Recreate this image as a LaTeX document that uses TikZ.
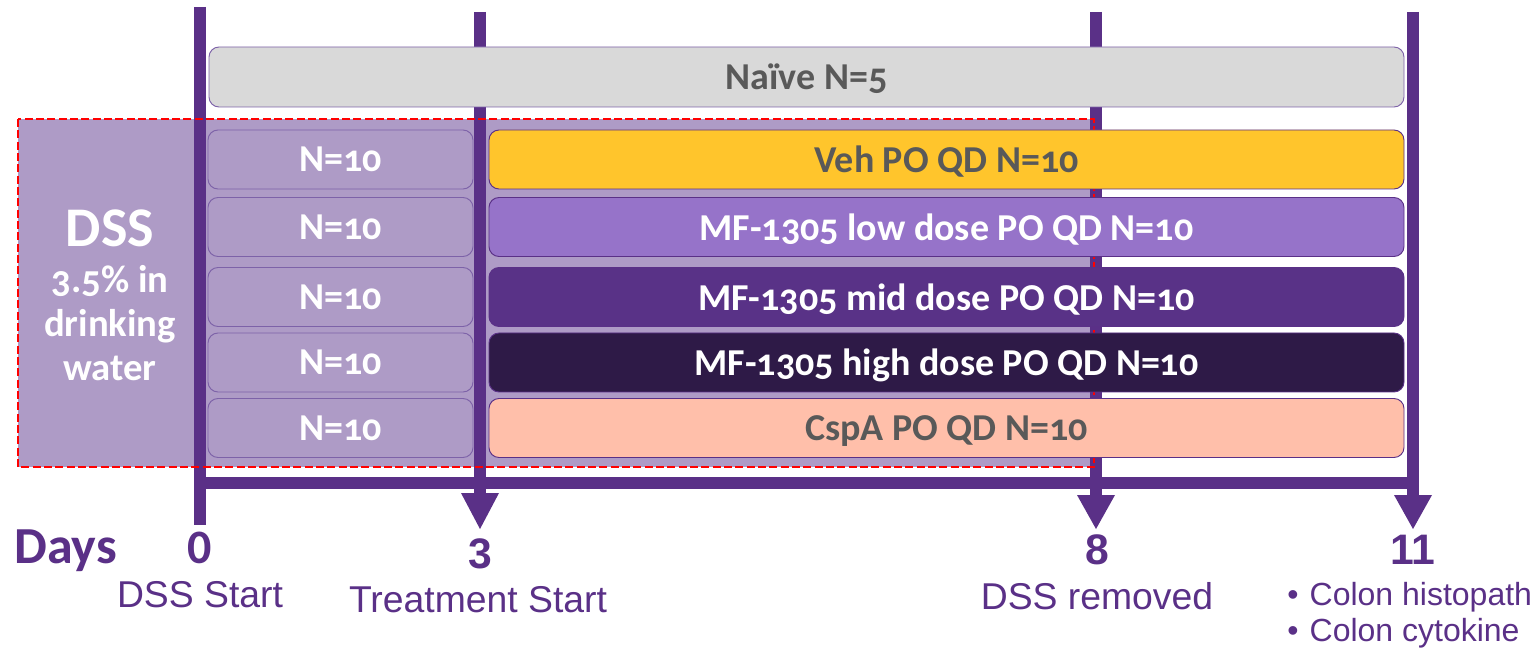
\documentclass[tikz,border=0pt]{standalone}
\usepackage{fontspec}
\setmainfont{Carlito}[Numbers=OldStyle]
\newfontfamily\calfont{Carlito}
\newfontfamily\arialfont{Liberation Sans}
\definecolor{mainp}{HTML}{5A3087}
\definecolor{bgp}{HTML}{AE9BC6}
\definecolor{edgep}{HTML}{7D62A8}
\definecolor{gtxt}{HTML}{595959}
\definecolor{naivef}{HTML}{D9D9D9}
\definecolor{vehf}{HTML}{FFC52C}
\definecolor{lowf}{HTML}{9673C9}
\definecolor{midf}{HTML}{593287}
\definecolor{highf}{HTML}{2E1A47}
\definecolor{cspf}{HTML}{FFBFAA}
\tikzset{
  x=0.75pt, y=-0.75pt,
  rbox/.style={draw=mainp, line width=0.7pt, rounded corners=7.5pt, minimum height=44.25pt, inner sep=0pt,
     text depth=0pt, font=\fontsize{28.5}{33}\selectfont\bfseries},
  lbox/.style={rbox, draw=edgep, fill=bgp, text=white, minimum width=198.75pt},
  wbox/.style={rbox, minimum width=686.25pt},
  tl/.style={mainp, line width=9pt},
  tip/.style={fill=mainp, draw=none},
  daynum/.style={text=mainp, font=\arialfont\fontsize{32}{36}\selectfont\bfseries, inner sep=0pt},
  sub/.style={text=mainp, font=\arialfont\fontsize{28}{32}\selectfont, inner sep=0pt},
}
\begin{document}
\begin{tikzpicture}
\useasboundingbox (0,0) rectangle (1538,648);
% DSS background
\fill[bgp] (18,119) rectangle (1092,467);
% timeline lines
\draw[tl] (200,7) -- (200,525);
\draw[tl] (480,12) -- (480,494);
\draw[tl] (1096,12) -- (1096,496);
\draw[tl] (1413,12) -- (1413,496);
\draw[tl] (194,482.5) -- (1419,482.5);
\fill[tip] (461,493) -- (499,493) -- (480,529) -- cycle;
\fill[tip] (1077,495) -- (1115,495) -- (1096,529) -- cycle;
\fill[tip] (1394,495) -- (1432,495) -- (1413,529) -- cycle;
% red dashed frame
\draw[red, line width=1.3pt, dash pattern=on 6pt off 2.5pt] (18,119) rectangle (1094,467);
% naive
\node[rbox, draw=edgep, fill=naivef, text=gtxt, minimum width=896.25pt, minimum height=45pt] (naive) at (806.5,77) {Naïve N=5};
% left boxes
\node[lbox] (l1) at (340.5,159.5) {N=10};
\node[lbox] (l2) at (340.5,227) {N=10};
\node[lbox] (l3) at (340.5,297) {N=10};
\node[lbox] (l4) at (340.5,362.5) {N=10};
\node[lbox] (l5) at (340.5,428) {N=10};
% right boxes
\node[wbox, fill=vehf, text=gtxt] (veh) at (946.5,159.5) {Veh PO QD N=10};
\node[wbox, fill=lowf, text=white] (low) at (946.5,227) {MF-1305 low dose PO QD N=10};
\node[wbox, fill=midf, text=white] (mid) at (946.5,297) {MF-1305 mid dose PO QD N=10};
\node[wbox, fill=highf, text=white] (high) at (946.5,362.5) {MF-1305 high dose PO QD N=10};
\node[wbox, fill=cspf, text=gtxt] (csp) at (946.5,428) {CspA PO QD N=10};
% DSS text
\node[text=white, font=\fontsize{42}{46}\selectfont\bfseries, inner sep=0pt] (dss) at (110,228) {DSS};
\node[text=white, font=\fontsize{29}{33}\selectfont\bfseries, align=center, inner sep=0pt, anchor=north] (dsst) at (110,265) {3.5\% in\\drinking\\water};
% bottom labels
\node[text=mainp, font=\calfont\fontsize{39}{42}\selectfont\bfseries, inner sep=0pt, anchor=base west] (days) at (14,563) {Days};
\node[text=mainp, font=\calfont\fontsize{36}{40}\selectfont\bfseries, inner sep=0pt, anchor=base] (d0) at (200,563) {0};
\node[daynum, anchor=base] (d3) at (480,568) {3};
\node[daynum, anchor=base] (d8) at (1097,564) {8};
\node[daynum, anchor=base] (d11) at (1413,564) {11};
\node[sub, anchor=base] (s0) at (200,607) {DSS Start};
\node[sub, anchor=base] (s3) at (478,612) {Treatment Start};
\node[sub, anchor=base] (s8) at (1097,609) {DSS removed};
\node[sub, font=\arialfont\fontsize{24}{28}\selectfont, anchor=base west] (b1) at (1287,605) {\textbullet\hspace{0.35em}Colon histopath};
\node[sub, font=\arialfont\fontsize{24}{28}\selectfont, anchor=base west] (b2) at (1287,641) {\textbullet\hspace{0.35em}Colon cytokine};
\end{tikzpicture}
\end{document}
